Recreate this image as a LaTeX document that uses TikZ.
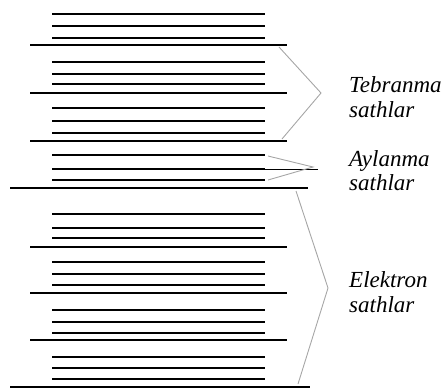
\documentclass[tikz,border=0pt]{standalone}
\usepackage{fontspec}
\setmainfont{Liberation Serif}
\begin{document}
\begin{tikzpicture}[x=1pt,y=-1pt,
  shortlvl/.style={line width=1.8pt},
  longlvl/.style={line width=2.2pt},
  mainlvl/.style={line width=2.8pt},
  brace/.style={draw=gray!70, line width=0.9pt},
  lbl/.style={anchor=base west, inner sep=0pt, font=\fontsize{23}{25}\selectfont\itshape}]
\useasboundingbox (0,0) rectangle (447,389);
% short levels
\foreach \y in {14,26,38,62,74,84,108,121,133,155,180,214,228,238,262,274,285,310,322,333,357,368,379}
  \draw[shortlvl] (52,\y) -- (265,\y);
% middle rotational level extended
\draw[shortlvl] (52,169) -- (265,169);
\draw[line width=1pt] (265,169) -- (318,169);
% long levels
\foreach \y in {45,93,141,247,293,340}
  \draw[longlvl] (30,\y) -- (287,\y);
% electronic levels
\draw[mainlvl] (10,188) -- (308,188);
\draw[mainlvl] (10,387) -- (310,387);
% braces
\coordinate (t1) at (279,47);
\coordinate (tv) at (321,93);
\coordinate (t2) at (282,139);
\draw[brace] (t1) -- (tv) -- (t2);
\coordinate (a1) at (268,156);
\coordinate (av) at (313,167);
\coordinate (a2) at (268,180);
\draw[brace] (a1) -- (av) -- (a2);
\coordinate (e1) at (296,191);
\coordinate (ev) at (328,288);
\coordinate (e2) at (298,384);
\draw[brace] (e1) -- (ev) -- (e2);
% labels
\node[lbl] (tb1) at (349,92) {Tebranma};
\node[lbl] (tb2) at (349,117) {sathlar};
\node[lbl] (ay1) at (349,166) {Aylanma};
\node[lbl] (ay2) at (349,190) {sathlar};
\node[lbl] (el1) at (349,287) {Elektron};
\node[lbl] (el2) at (349,312) {sathlar};
\end{tikzpicture}
\end{document}
